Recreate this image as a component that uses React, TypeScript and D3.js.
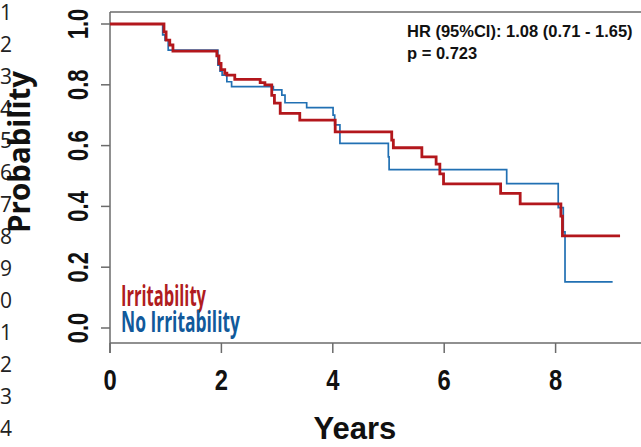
import React from "react";
import * as d3 from "d3";

// Kaplan–Meier step estimates (time in years, survival probability)
const irritTimes = [0, 0.969, 1.007, 1.073, 1.13, 1.918, 1.956, 1.994, 2.06, 2.098, 2.24, 2.696, 2.781, 2.904, 2.952, 3.056, 3.407, 4.043, 5.058, 5.087, 5.599, 5.855, 5.922, 5.988, 7.013, 7.364, 8.095, 8.123, 9.157];
const irritSurv = [1, 0.974, 0.947, 0.931, 0.911, 0.895, 0.87, 0.85, 0.838, 0.832, 0.818, 0.807, 0.8, 0.765, 0.74, 0.706, 0.684, 0.645, 0.618, 0.593, 0.563, 0.539, 0.507, 0.474, 0.443, 0.408, 0.368, 0.303, 0.303];

const noIrritTimes = [0, 0.946, 0.988, 1.045, 1.937, 1.975, 2.013, 2.098, 2.183, 2.933, 3.085, 3.142, 3.531, 4.005, 4.034, 4.128, 4.997, 5.011, 7.122, 8.047, 8.138, 8.169, 9.024];
const noIrritSurv = [1, 0.964, 0.947, 0.914, 0.865, 0.845, 0.832, 0.81, 0.794, 0.783, 0.766, 0.741, 0.725, 0.7, 0.668, 0.607, 0.563, 0.521, 0.475, 0.396, 0.316, 0.152, 0.152];

const xTicks = [0, 2, 4, 6, 8];
const yTicks = [0, 0.2, 0.4, 0.6, 0.8, 1.0];
const lineNumbers = ["1", "2", "3", "4", "5", "6", "7", "8", "9", "0", "1", "2", "3", "4"];

const RED = "#b3171c";
const BLUE = "#2170b3";
const AXIS = "#6b6b6b";
const TICK_FONT = "'Liberation Sans', Arial, sans-serif";

export default function App() {
  const W = 641;
  const H = 447;
  const x = d3.scaleLinear().domain([0, 10]).range([110, 110 + 55.7 * 10]);
  const y = d3.scaleLinear().domain([0, 1]).range([328, 24]);

  const line = d3
    .line<[number, number]>()
    .x((d) => x(d[0]))
    .y((d) => y(d[1]))
    .curve(d3.curveStepAfter);

  const irrit = irritTimes.map((t, i) => [t, irritSurv[i]] as [number, number]);
  const noIrrit = noIrritTimes.map((t, i) => [t, noIrritSurv[i]] as [number, number]);

  const left = 110;
  const top = 12;
  const bottom = 343;

  return (
    <svg
      width={W}
      height={H}
      style={{ position: "absolute", left: 0, top: 0, background: "#fff" }}
    >
      <rect width={W} height={H} fill="#fff" />

      {/* margin line numbers */}
      {lineNumbers.map((n, i) => (
        <text
          key={i}
          x={0}
          y={19.5 + 32 * i}
          fontFamily="'Open Sans', sans-serif"
          fontSize={21}
          fill="#222"
        >
          {n}
        </text>
      ))}

      {/* frame: left, top, bottom */}
      <g stroke={AXIS} strokeWidth={1.5} fill="none">
        <line x1={left} y1={top} x2={left} y2={bottom + 10} />
        <line x1={left} y1={top} x2={W} y2={top} />
        <line x1={left} y1={bottom} x2={W} y2={bottom} />
      </g>

      {/* y axis */}
      {yTicks.map((v) => (
        <g key={v}>
          <line x1={left - 9} x2={left} y1={y(v)} y2={y(v)} stroke={AXIS} strokeWidth={1.5} />
          <text
            transform={`translate(87.5,${y(v)}) rotate(-90) scale(0.76,1)`}
            textAnchor="middle"
            fontFamily={TICK_FONT}
            fontWeight={700}
            fontSize={29}
            fill="#111"
          >
            {v.toFixed(1)}
          </text>
        </g>
      ))}

      {/* x axis */}
      {xTicks.map((v) => (
        <g key={v}>
          <line x1={x(v)} x2={x(v)} y1={bottom} y2={bottom + 10} stroke={AXIS} strokeWidth={1.5} />
          <text
            transform={`translate(${x(v)},390) scale(0.82,1)`}
            textAnchor="middle"
            fontFamily={TICK_FONT}
            fontWeight={700}
            fontSize={29}
            fill="#111"
          >
            {v}
          </text>
        </g>
      ))}

      {/* axis titles */}
      <text
        transform="translate(30,152) rotate(-90)"
        textAnchor="middle"
        fontFamily="'Open Sans', sans-serif"
        fontWeight={700}
        fontSize={29.5}
        fill="#111"
      >
        Probability
      </text>
      <text
        x={355}
        y={439}
        textAnchor="middle"
        fontFamily="'Liberation Sans', Arial, sans-serif"
        fontWeight={700}
        fontSize={31}
        fill="#111"
      >
        Years
      </text>

      {/* survival curves */}
      <path d={line(noIrrit) ?? ""} fill="none" stroke={BLUE} strokeWidth={1.7} />
      <path d={line(irrit) ?? ""} fill="none" stroke={RED} strokeWidth={2.8} />

      {/* statistics */}
      <g fontFamily="'Liberation Sans', Arial, sans-serif" fontWeight={700} fontSize={16.5} fill="#111">
        <text x={407} y={37}>HR (95%CI): 1.08 (0.71 - 1.65)</text>
        <text x={407} y={59}>p = 0.723</text>
      </g>

      {/* legend */}
      <text
        x={121}
        y={305.5}
        fontFamily="'Open Sans', sans-serif"
        fontWeight={700}
        fontSize={29}
        fill="#b01c20"
        textLength={85}
        lengthAdjust="spacingAndGlyphs"
      >
        Irritability
      </text>
      <text
        x={121}
        y={332.3}
        fontFamily="'Open Sans', sans-serif"
        fontWeight={700}
        fontSize={29}
        fill="#11599b"
        textLength={119}
        lengthAdjust="spacingAndGlyphs"
      >
        No Irritability
      </text>
    </svg>
  );
}
